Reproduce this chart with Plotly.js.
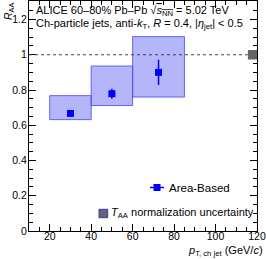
<!DOCTYPE html>
<html><head><meta charset="utf-8">
<script src="https://cdn.plot.ly/plotly-3.0.1.min.js"></script>
<style>html,body{margin:0;padding:0;background:#fff}#chart{width:266px;height:259px}</style>
</head><body><div id="chart"></div>
<script>
// Data
const binLow = [20, 40, 60];
const binHigh = [40, 60, 85];
const ptCenter = [30, 50, 72.5];
const raa = [0.667, 0.779, 0.900];
const statErr = [0.008, 0.028, 0.072];
const sysLow = [0.632, 0.712, 0.760];
const sysHigh = [0.768, 0.936, 1.103];
const taaUnc = 0.027;
const seriesName = 'Area-Based';

const W = 266, H = 259, L = 29, R = 9, T = 1, B = 28;
const pw = W - L - R, ph = H - T - B;
const px = x => (x - L) / pw;
const py = y => (H - B - y) / ph;
const FONT = 'Liberation Sans, Arial, sans-serif';

const widths = binLow.map((l, i) => binHigh[i] - l);
const centersBox = binLow.map((l, i) => (l + binHigh[i]) / 2);

const traces = [
  {
    type: 'bar', x: centersBox, width: widths,
    base: sysLow, y: sysLow.map((l, i) => sysHigh[i] - l),
    marker: {color: 'rgba(90,90,245,0.45)', line: {color: 'rgba(70,70,240,0.8)', width: 1}},
    hoverinfo: 'skip', showlegend: false
  },
  {
    type: 'scatter', mode: 'markers', x: ptCenter, y: raa, name: seriesName,
    marker: {symbol: 'square', size: 7, color: '#0000ff'},
    error_y: {type: 'data', array: statErr, visible: true, color: '#0000ff', thickness: 1.5, width: 0},
    showlegend: false
  }
];

const shapes = [
  {type: 'line', xref: 'x', yref: 'y', x0: 10, x1: 115.6, y0: 1, y1: 1,
   line: {color: '#444', width: 1, dash: '3px,3px'}},
  {type: 'rect', xref: 'x', yref: 'y', x0: 115.6, x1: 120, y0: 1 - taaUnc, y1: 1 + taaUnc,
   fillcolor: '#666', line: {width: 0}},
  // legend: Area-Based
  {type: 'line', xref: 'paper', yref: 'paper', x0: px(150), x1: px(164), y0: py(187.5), y1: py(187.5),
   line: {color: '#0000ff', width: 1.5}},
  {type: 'rect', xref: 'paper', yref: 'paper', x0: px(153.5), x1: px(160.5), y0: py(191), y1: py(184),
   fillcolor: '#0000ff', line: {width: 0}},
  // legend: TAA
  {type: 'rect', xref: 'paper', yref: 'paper', x0: px(99), x1: px(107.7), y0: py(217.7), y1: py(209.3),
   fillcolor: '#666', line: {color: '#3333cc', width: 1}}
];

const ann = (text, x, y, xa, ya, size, extra) => Object.assign({
  text, xref: 'paper', yref: 'paper', x: px(x), y: py(y), xanchor: xa, yanchor: ya,
  showarrow: false, font: {family: FONT, size: size, color: '#000'}
}, extra || {});

const annotations = [
  ann('ALICE 60–80% Pb–Pb √<span style="text-decoration:overline"><i>s</i><sub>NN</sub></span> = 5.02 TeV', 34, 11, 'left', 'middle', 11),
  ann('Ch-particle jets, anti-<i>k</i><sub>T</sub>, <i>R</i> = 0.4, |<i>η</i><sub>jet</sub>| < 0.5', 34, 24, 'left', 'middle', 11),
  ann(seriesName, 167, 187.5, 'left', 'middle', 11.5),
  ann('<i>T</i><sub>AA</sub> normalization uncertainty', 109, 213, 'left', 'middle', 11),
  ann('<i>p</i><sub>T, ch jet</sub> (GeV/<i>c</i>)', 265, 251, 'right', 'middle', 11),
  ann('<i>R</i><sub>AA</sub>', 9, 12, 'center', 'middle', 10.5, {textangle: -90})
];

const axisCommon = {
  showgrid: false, zeroline: false, showline: true, linecolor: '#000', linewidth: 1,
  mirror: 'allticks', ticks: 'inside', tickcolor: '#000', tickwidth: 1,
  tickfont: {family: FONT, size: 10.5, color: '#000'}
};

const layout = {
  width: W, height: H, margin: {l: L, r: R, t: T, b: B},
  paper_bgcolor: '#fff', plot_bgcolor: '#fff', showlegend: false,
  barmode: 'overlay',
  xaxis: Object.assign({}, axisCommon, {range: [10, 120], tick0: 0, dtick: 20, ticklen: 7,
    ticklabelstandoff: -5,
    minor: {ticks: 'inside', dtick: 5, ticklen: 4, tickcolor: '#000', showgrid: false}}),
  yaxis: Object.assign({}, axisCommon, {range: [0, 1.305], tick0: 0, dtick: 0.2, ticklen: 7,
    tickformat: '~g', ticklabelstandoff: -1,
    minor: {ticks: 'inside', dtick: 0.05, ticklen: 4, tickcolor: '#000', showgrid: false}}),
  shapes, annotations
};

Plotly.newPlot('chart', traces, layout, {staticPlot: true, displayModeBar: false});
</script></body></html>
